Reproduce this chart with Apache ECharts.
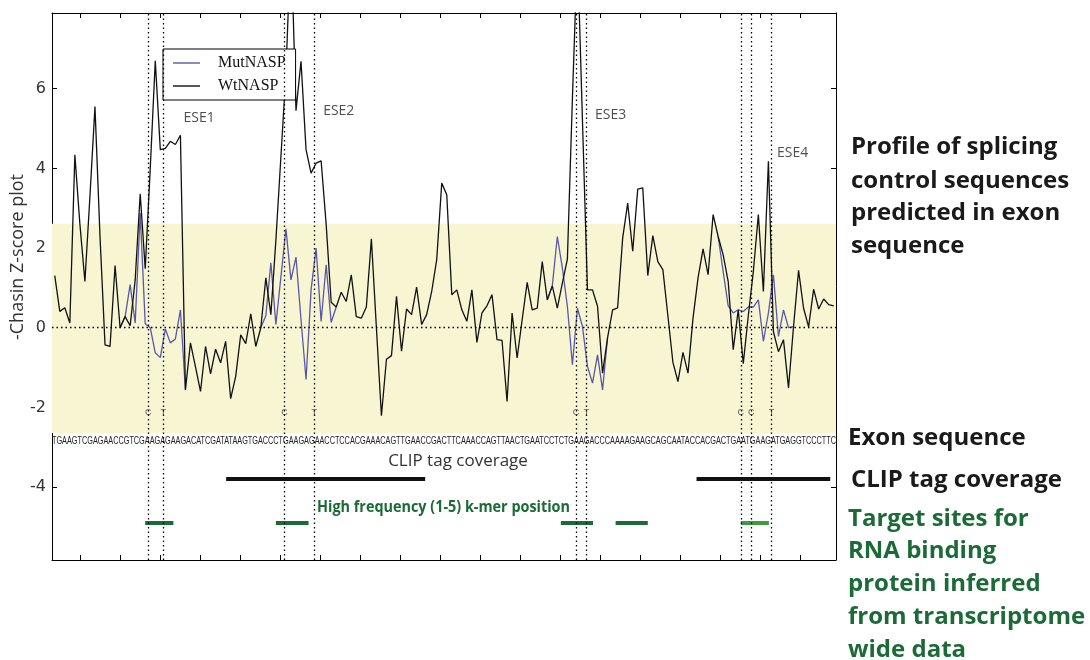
<!DOCTYPE html>
<html><head><meta charset="utf-8">
<script src="https://cdn.jsdelivr.net/npm/echarts@6/dist/echarts.min.js"></script>
<style>html,body{margin:0;padding:0;background:#fff}#chart{width:1090px;height:660px}</style>
</head><body><div id="chart"></div>
<script>
// ---------- data ----------
const wtNASP = [
 1.31,0.41,0.50,0.12,4.34,2.60,1.16,3.30,5.55,2.30,
 -0.43,-0.47,1.56,0.00,0.28,0.05,1.20,3.36,1.48,4.00,
 6.70,4.47,4.50,4.68,4.60,4.83,-1.56,-0.38,-0.98,-1.60,
 -0.47,-1.16,-0.54,-0.88,-0.34,-1.78,-1.22,-0.18,-0.40,0.35,
 -0.47,0.00,1.25,0.33,2.20,4.30,6.40,9.80,5.45,6.69,
 4.47,3.88,4.13,4.19,2.60,0.64,0.52,0.89,0.66,1.33,
 0.28,0.24,0.52,2.23,0.00,-2.21,-0.79,-0.70,0.79,-0.59,
 0.47,0.33,1.02,0.08,0.33,0.91,1.71,3.63,3.34,0.83,
 0.95,0.45,0.16,0.95,-0.37,0.37,0.55,0.83,-0.30,-0.32,
 -1.85,0.37,-0.76,0.20,1.14,0.45,0.49,1.66,0.70,1.05,
 0.49,1.12,1.72,5.75,9.50,5.20,0.95,0.95,0.54,-1.14,
 -0.25,0.45,0.50,2.25,3.13,1.92,3.48,3.51,1.31,2.31,
 1.66,1.46,0.30,-0.87,-1.35,-0.62,-1.14,0.24,1.25,1.98,
 1.33,2.84,2.29,1.83,1.16,-0.55,0.45,-0.90,0.30,1.41,
 2.84,0.91,4.18,-0.10,-0.60,-0.30,-1.51,0.03,1.44,0.49,
 0.02,0.97,0.47,0.72,0.58,0.55
];
// MutNASP differs from WtNASP only around the four ESE sites
const mutStart1 = 13,  mutValues1 = [0.00,0.28,1.08,0.12,2.88,0.10,0.00,-0.63,-0.75,-0.03,-0.38,-0.28,0.45,-1.56];
const mutStart2 = 41,  mutValues2 = [0.00,0.30,1.63,0.08,1.28,2.48,1.20,1.77,0.20,-1.30,0.95,2.00,0.16,1.58,0.13,0.52];
const mutStart3 = 98,  mutValues3 = [0.70,1.05,2.29,1.50,0.54,-0.93,0.49,0.03,-0.97,-1.39,-0.68,-1.56,-0.25];
const mutStart4 = 132, mutValues4 = [2.29,1.41,0.55,0.37,0.45,0.41,0.52,0.52,0.70,-0.34,0.37,1.33,-0.22,0.45,0.00,0.03];

const exonSequence = "TGAAGTCGAGAACCGTCGAAGAGAAGACATCGATATAAGTGACCCTGAAGAGAACCTCCACGAAACAGTTGAACCGACTTCAAACCAGTTAACTGAATCCTCTGAAGACCCAAAAGAAGCAGCAATACCACGACTGAATGAAGATGAGGTCCCTTC";

const markerPos    = [18.6, 21.6, 45.7, 51.65, 103.7, 105.8, 136.5, 138.6, 142.6];
const markerLabels = ['C','T','C','T','C','T','C','C','T'];

const eseNames = ['ESE1','ESE2','ESE3','ESE4'];
const eseX = [25.6, 53.4, 107.5, 143.7];
const eseY = [5.27, 5.45, 5.35, 4.39];

const clipStart = [34.1, 127.7];
const clipEnd   = [73.7, 154.3];
const clipLevel = -3.78;

const kmerStart = [18.0, 44.0, 100.7, 111.6, 136.5];
const kmerEnd   = [23.6, 50.5, 107.1, 118.0, 142.1];
const kmerLight = [false, false, false, false, true];
const kmerLevel = -4.9;

const bandLow = -2.64, bandHigh = 2.61;
const yTickValues = [-4, -2, 0, 2, 4, 6];

const xMin = -0.55, xMax = 155.45, yMin = -5.83, yMax = 7.9;
const xTickValues = Array.from({length: 19}, (_, j) => 5.03 + 7.96 * j);

// ---------- build ----------
const mutNASP = wtNASP.map(() => null);
[[mutStart1, mutValues1],[mutStart2, mutValues2],[mutStart3, mutValues3],[mutStart4, mutValues4]]
  .forEach(([s, vals]) => vals.forEach((v, j) => { mutNASP[s + j] = v; }));

const GREEN = '#1b6b37', LIGHTGREEN = '#3e9a45';

function fitScale(text, font, target) {
  const c = document.createElement('canvas').getContext('2d');
  c.font = font;
  return target / c.measureText(text).width;
}

const chart = echarts.init(document.getElementById('chart'), null, {renderer: 'canvas'});

const axisCommonX = {
  type: 'value', min: xMin, max: xMax,
  axisLine: {show: true, onZero: false, lineStyle: {color: '#000', width: 1}},
  axisTick: {show: true, inside: true, length: 5, customValues: xTickValues, lineStyle: {color: '#000'}},
  axisLabel: {show: false}, splitLine: {show: false}
};
const axisCommonY = {
  type: 'value', min: yMin, max: yMax,
  axisLine: {show: true, onZero: false, lineStyle: {color: '#000', width: 1}},
  axisTick: {show: true, inside: true, length: 5, customValues: yTickValues, lineStyle: {color: '#000'}},
  splitLine: {show: false}
};

const seqFont = '10px "Liberation Sans"';
const seqScale = fitScale(exonSequence, seqFont, 784);
const hfText = 'High frequency (1-5) k-mer position';
const hfFont = 'bold 16px "Open Sans"';
const hfScale = fitScale(hfText, hfFont, 253);

const rightText = (txt, x, y, color) => ({
  type: 'text', x: x, y: y,
  style: {text: txt, fontSize: 24, fontWeight: 'bold', fontFamily: 'Open Sans', fill: color, verticalAlign: 'middle', align: 'left'}
});

const option = {
  animation: false,
  backgroundColor: '#fff',
  grid: {left: 52, top: 13, width: 784, height: 547, containLabel: false},
  xAxis: [
    Object.assign({position: 'bottom'}, axisCommonX),
    Object.assign({position: 'top'}, axisCommonX)
  ],
  yAxis: [
    Object.assign({position: 'left', axisLabel: {show: true, customValues: yTickValues, fontSize: 16, fontFamily: 'DejaVu Sans', color: '#333', margin: 6}}, axisCommonY),
    Object.assign({position: 'right', axisLabel: {show: false}}, axisCommonY)
  ],
  legend: {
    data: ['MutNASP', 'WtNASP'],
    icon: 'rect',
    orient: 'vertical', left: 163, top: 49,
    backgroundColor: '#fff', borderColor: '#000', borderWidth: 1, borderRadius: 0,
    padding: [6, 10, 6, 10], itemWidth: 27, itemHeight: 1.4, itemGap: 7,
    textStyle: {fontFamily: 'Liberation Serif', fontSize: 16, color: '#111', padding: [0, 0, 0, 13]}
  },
  series: [
    {
      name: 'band', type: 'line', data: [], silent: true, z: 1,
      markArea: {silent: true, itemStyle: {color: '#f8f5d2'},
        data: [[{xAxis: xMin, yAxis: bandLow}, {xAxis: xMax, yAxis: bandHigh}]]},
      markLine: {silent: true, symbol: 'none', label: {show: false},
        lineStyle: {type: [1.5, 3], color: '#000', width: 1.3},
        data: [{yAxis: 0}].concat(markerPos.map(p => ({xAxis: p})))}
    },
    {
      name: 'MutNASP', type: 'line', z: 3, symbol: 'none', connectNulls: false,
      data: mutNASP.map((v, i) => [i, v]),
      lineStyle: {color: '#5858aa', width: 1.3}, itemStyle: {color: '#5858aa'}
    },
    {
      name: 'WtNASP', type: 'line', z: 3, symbol: 'none',
      data: wtNASP.map((v, i) => [i, v]),
      lineStyle: {color: '#111', width: 1.3}, itemStyle: {color: '#111'}
    },
    {
      name: 'CLIP', type: 'lines', coordinateSystem: 'cartesian2d', z: 3, silent: true,
      lineStyle: {color: '#111', width: 4, opacity: 1},
      data: clipStart.map((s, i) => ({coords: [[s, clipLevel], [clipEnd[i], clipLevel]]}))
    },
    {
      name: 'kmer', type: 'lines', coordinateSystem: 'cartesian2d', z: 3, silent: true,
      lineStyle: {width: 4, opacity: 1},
      data: kmerStart.map((s, i) => ({coords: [[s, kmerLevel], [kmerEnd[i], kmerLevel]],
        lineStyle: {color: kmerLight[i] ? LIGHTGREEN : GREEN}}))
    },
    {
      name: 'markerLabels', type: 'scatter', symbolSize: 0, z: 4, silent: true,
      data: markerPos.map((p, i) => ({value: [p, -2.13], name: markerLabels[i]})),
      label: {show: true, position: 'inside', formatter: p => p.name, fontSize: 9, fontFamily: 'Liberation Sans', color: '#333'}
    },
    {
      name: 'eseLabels', type: 'scatter', symbolSize: 0, z: 4, silent: true,
      data: eseNames.map((n, i) => ({value: [eseX[i], eseY[i]], name: n})),
      label: {show: true, position: 'right', distance: 0, formatter: p => p.name, fontSize: 14, fontFamily: 'Open Sans', color: '#222'}
    }
  ],
  graphic: [
    {type: 'text', x: 18, y: 257, rotation: Math.PI / 2,
     style: {text: '-Chasin Z-score plot', fontSize: 18, fontFamily: 'Open Sans', fill: '#333', align: 'center', verticalAlign: 'middle'}},
    {type: 'text', x: 52, y: 441, scaleX: seqScale, z: 5,
     style: {text: exonSequence, font: seqFont, fill: '#222', align: 'left', verticalAlign: 'middle'}},
    {type: 'text', x: 458, y: 461,
     style: {text: 'CLIP tag coverage', fontSize: 17, fontFamily: 'Open Sans', fill: '#333', align: 'center', verticalAlign: 'middle'}},
    {type: 'text', x: 317, y: 507, scaleX: hfScale,
     style: {text: hfText, font: hfFont, fill: GREEN, align: 'left', verticalAlign: 'middle'}},
    rightText('Profile of splicing', 851, 147, '#1a1a1a'),
    rightText('control sequences', 851, 181, '#1a1a1a'),
    rightText('predicted in exon', 851, 213, '#1a1a1a'),
    rightText('sequence', 851, 246, '#1a1a1a'),
    rightText('Exon sequence', 848, 438, '#1a1a1a'),
    rightText('CLIP tag coverage', 851, 480, '#1a1a1a'),
    rightText('Target sites for', 848, 519, GREEN),
    rightText('RNA binding', 848, 551, GREEN),
    rightText('protein inferred', 848, 584, GREEN),
    rightText('from transcriptome', 848, 617, GREEN),
    rightText('wide data', 848, 650, GREEN)
  ]
};
chart.setOption(option);
</script></body></html>
